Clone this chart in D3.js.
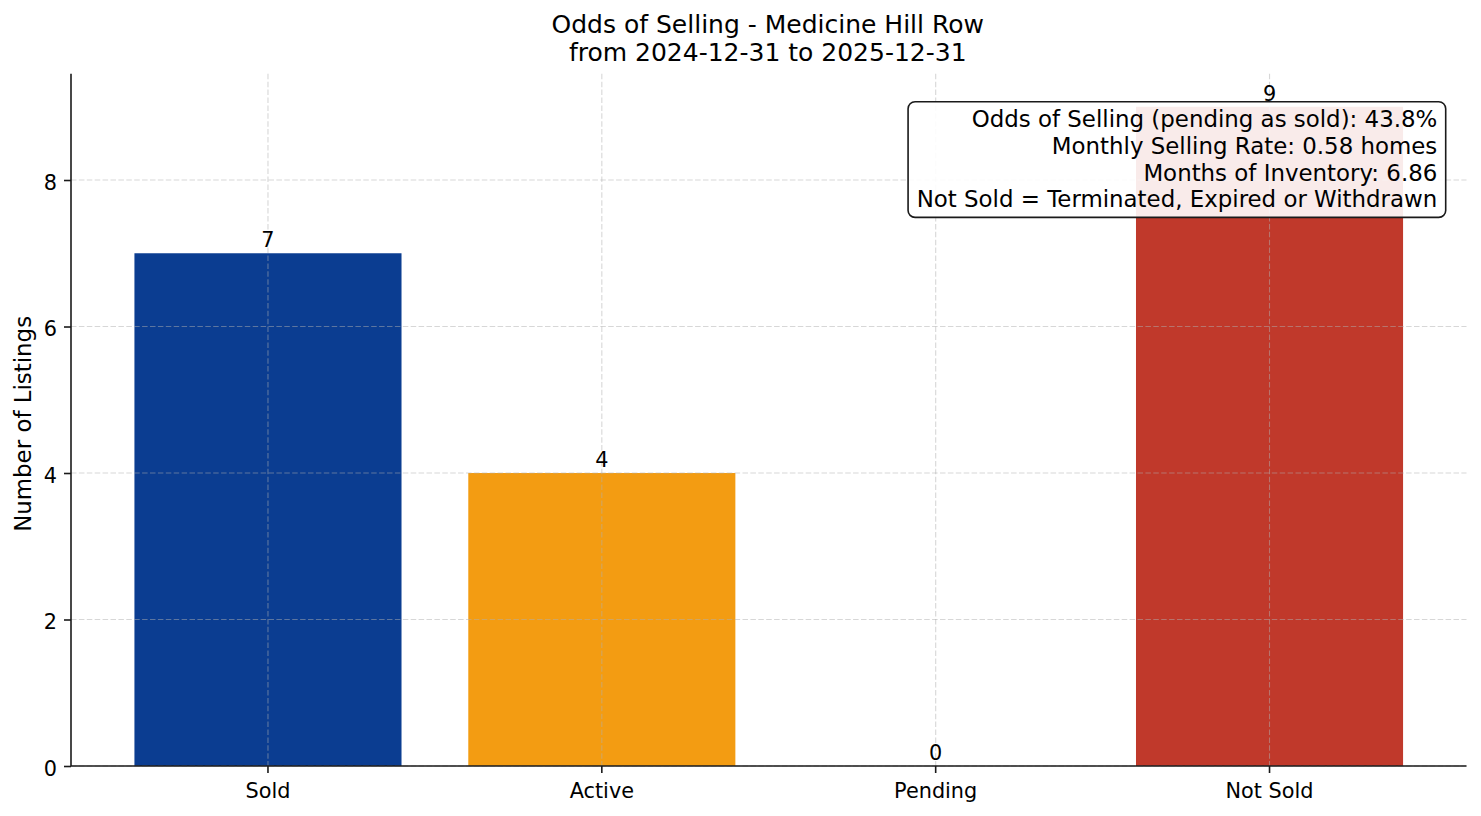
<!DOCTYPE html>
<html>
<head>
<meta charset="utf-8">
<script src="https://cdn.jsdelivr.net/npm/d3@7"></script>
<style>
  html, body { margin: 0; padding: 0; background: #fff; }
  svg { display: block; font-family: "DejaVu Sans", sans-serif; }
</style>
</head>
<body>
<svg id="chart"></svg>
<script>
// data
const categories = ["Sold", "Active", "Pending", "Not Sold"];
const counts = [7, 4, 0, 9];
const barColors = ["#0b3d91", "#f39c12", "#f39c12", "#c0392b"];
const yTicks = [0, 2, 4, 6, 8];
const titleLines = ["Odds of Selling - Medicine Hill Row", "from 2024-12-31 to 2025-12-31"];
const statLines = [
  "Odds of Selling (pending as sold): 43.8%",
  "Monthly Selling Rate: 0.58 homes",
  "Months of Inventory: 6.86",
  "Not Sold = Terminated, Expired or Withdrawn"
];

const width = 1481;
const height = 816;
const margin = { top: 73.8, right: 14.5, bottom: 50, left: 71 };

const svg = d3.select("#chart")
  .attr("width", width)
  .attr("height", height);

const x = d3.scaleBand()
  .domain(categories)
  .range([margin.left, width - margin.right])
  .paddingInner(0.2)
  .paddingOuter(0.19);

const y = d3.scaleLinear()
  .domain([0, d3.max(counts) * 1.05])
  .range([height - margin.bottom, margin.top]);

// bars
svg.append("g")
  .selectAll("rect")
  .data(categories)
  .join("rect")
  .attr("x", d => x(d))
  .attr("width", x.bandwidth())
  .attr("y", (d, i) => y(counts[i]))
  .attr("height", (d, i) => y(0) - y(counts[i]))
  .attr("fill", (d, i) => barColors[i]);

// grid, drawn above the bars like the original
const grid = svg.append("g")
  .attr("stroke", "#b0b0b0")
  .attr("stroke-opacity", 0.5)
  .attr("stroke-width", 1.1)
  .attr("stroke-dasharray", "5.5,2.4");

grid.selectAll("line.h")
  .data(yTicks)
  .join("line")
  .attr("class", "h")
  .attr("x1", margin.left)
  .attr("x2", width - margin.right)
  .attr("y1", d => y(d))
  .attr("y2", d => y(d));

grid.selectAll("line.v")
  .data(categories)
  .join("line")
  .attr("class", "v")
  .attr("x1", d => x(d) + x.bandwidth() / 2)
  .attr("x2", d => x(d) + x.bandwidth() / 2)
  .attr("y1", margin.top)
  .attr("y2", height - margin.bottom);

// value labels
svg.append("g")
  .selectAll("text")
  .data(categories)
  .join("text")
  .attr("x", d => x(d) + x.bandwidth() / 2)
  .attr("y", (d, i) => y(counts[i]) - 6)
  .attr("text-anchor", "middle")
  .attr("font-size", 20.8)
  .attr("fill", "#000")
  .text((d, i) => counts[i]);

// axes
const xAxis = svg.append("g")
  .attr("transform", `translate(0,${height - margin.bottom})`)
  .call(d3.axisBottom(x).tickSize(7).tickPadding(7).tickSizeOuter(0));

const yAxis = svg.append("g")
  .attr("transform", `translate(${margin.left},0)`)
  .call(d3.axisLeft(y).tickValues(yTicks).tickSize(7).tickPadding(7).tickSizeOuter(0));

[xAxis, yAxis].forEach(g => {
  g.attr("font-family", null).attr("font-size", null);
  g.selectAll("path,line").attr("stroke", "#1a1a1a").attr("stroke-width", 1.6);
  g.selectAll("text").attr("fill", "#000").attr("font-size", 20.8);
});
xAxis.select(".domain").attr("d", `M${margin.left},0H${width - margin.right}`);
yAxis.select(".domain").attr("d", `M0,${y(0)}V${margin.top}`);
xAxis.selectAll("text").attr("dy", "0.86em");
yAxis.selectAll("text").attr("dy", "0.45em");

// y label
svg.append("text")
  .attr("transform", `translate(31,${(margin.top + height - margin.bottom) / 2 + 4}) rotate(-90)`)
  .attr("text-anchor", "middle")
  .attr("font-size", 22.9)
  .attr("fill", "#000")
  .text("Number of Listings");

// title
const cx = (margin.left + width - margin.right) / 2;
svg.append("text")
  .attr("text-anchor", "middle")
  .attr("font-size", 25)
  .attr("fill", "#000")
  .selectAll("tspan")
  .data(titleLines)
  .join("tspan")
  .attr("x", cx - 1)
  .attr("y", (d, i) => 33.3 + i * 27.7)
  .text(d => d);

// stats box
const boxRight = width - margin.right - 20.8;
const boxTop = margin.top + 27.9;
const lineGap = 26.9;
const box = svg.append("g");
const boxRect = box.append("rect")
  .attr("fill", "#fff")
  .attr("fill-opacity", 0.9)
  .attr("stroke", "#1a1a1a")
  .attr("stroke-width", 1.6)
  .attr("rx", 7)
  .attr("ry", 7);

const boxText = box.append("text")
  .attr("text-anchor", "end")
  .attr("font-size", 22.9)
  .attr("fill", "#000");

boxText.selectAll("tspan")
  .data(statLines)
  .join("tspan")
  .attr("x", boxRight - 8.4)
  .attr("y", (d, i) => boxTop + 25 + i * lineGap)
  .text(d => d);

const bb = boxText.node().getBBox();
const boxLeft = bb.x - 8.6;
const boxBottom = boxTop + 25 + (statLines.length - 1) * lineGap + 10;
boxRect
  .attr("x", boxLeft)
  .attr("y", boxTop)
  .attr("width", boxRight - boxLeft)
  .attr("height", boxBottom - boxTop);
</script>
</body>
</html>
